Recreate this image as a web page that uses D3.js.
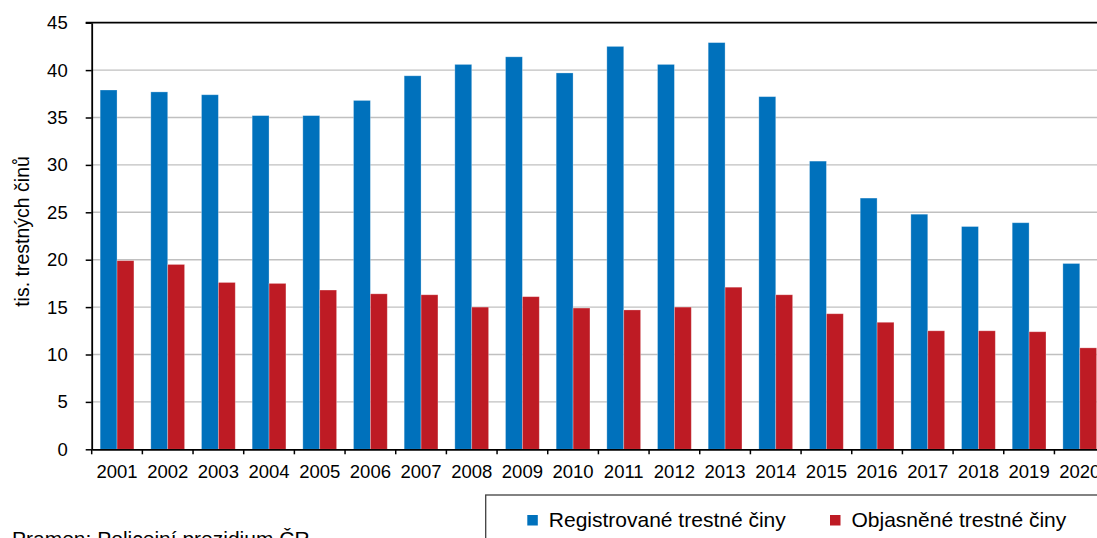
<!DOCTYPE html>
<html>
<head>
<meta charset="utf-8">
<script src="https://cdn.jsdelivr.net/npm/d3@7"></script>
<style>
  html, body { margin: 0; padding: 0; background: #fff; overflow: hidden; }
  text { font-family: "Liberation Sans", Arial, sans-serif; fill: #000; }
</style>
</head>
<body>
<svg id="chart" width="1097" height="538"></svg>
<script>
const years = ["2001","2002","2003","2004","2005","2006","2007","2008","2009","2010",
               "2011","2012","2013","2014","2015","2016","2017","2018","2019","2020"];
const registered = [37.9,37.7,37.4,35.2,35.2,36.8,39.4,40.6,41.4,39.7,
                    42.5,40.6,42.9,37.2,30.4,26.5,24.8,23.5,23.9,19.6];
const solved = [19.9,19.5,17.6,17.5,16.8,16.4,16.3,15.0,16.1,14.9,
                14.7,15.0,17.1,16.3,14.3,13.4,12.5,12.5,12.4,10.7];
const yTicks = [0,5,10,15,20,25,30,35,40,45];
const seriesNames = ["Registrované trestné činy", "Objasněné trestné činy"];
const seriesColors = ["#0071BC", "#BE1B24"];
const yTitle = "tis. trestných činů";
const sourceText = "Pramen: Policejní prezidium ČR";

(function () {
const svg = d3.select("#chart");
const mLeft = 91.7, mTop = 22.7, mBottom = 449.3;
const bandW = 50.67;
const mRight = mLeft + bandW * years.length;

const x = d3.scaleBand().domain(years).range([mLeft, mRight]).paddingInner(0).paddingOuter(0);
const x1 = d3.scaleBand().domain([0, 1]).range([x.bandwidth() / 6, x.bandwidth() * 5 / 6]).padding(0);
const y = d3.scaleLinear().domain([0, 45]).range([mBottom, mTop]);

// gridlines
svg.append("g").selectAll("line").data(yTicks.filter(d => d > 0 && d < 45)).join("line")
  .attr("x1", mLeft).attr("x2", 1097)
  .attr("y1", d => y(d)).attr("y2", d => y(d))
  .attr("stroke", "#c0c0c0").attr("stroke-width", 1.4);

// bars
const data = years.map((yr, i) => ({ yr, vals: [registered[i], solved[i]] }));
const groups = svg.append("g").selectAll("g").data(data).join("g")
  .attr("transform", d => `translate(${x(d.yr)},0)`);
groups.selectAll("rect").data(d => d.vals.map((v, k) => ({ v, k }))).join("rect")
  .attr("x", d => x1(d.k))
  .attr("width", x1.bandwidth())
  .attr("y", d => y(d.v))
  .attr("height", d => y(0) - y(d.v))
  .attr("fill", d => seriesColors[d.k])
  .attr("stroke", "rgba(255,255,255,0.35)")
  .attr("stroke-width", 0.8);

// top border line
svg.append("line").attr("x1", mLeft - 6).attr("x2", 1097)
  .attr("y1", mTop).attr("y2", mTop).attr("stroke", "#000").attr("stroke-width", 1.8);

// y axis
const yAxis = d3.axisLeft(y).tickValues(yTicks).tickSize(6).tickPadding(18).tickSizeOuter(0);
const gy = svg.append("g").attr("transform", `translate(${mLeft},0)`).call(yAxis);
gy.select(".domain").attr("stroke", "#000").attr("stroke-width", 1.8);
gy.selectAll(".tick line").attr("stroke", "#000").attr("stroke-width", 1.5);
gy.selectAll(".tick text").style("font-size", "18.5px").style("font-family", '"Liberation Sans", Arial, sans-serif').attr("fill", "#000");

// x axis
const xAxis = d3.axisBottom(x).tickSize(0).tickPadding(16).tickSizeOuter(0);
const gx = svg.append("g").attr("transform", `translate(0,${mBottom})`).call(xAxis);
gx.select(".domain").attr("stroke", "#000").attr("stroke-width", 1.8);
gx.selectAll(".tick text").style("font-size", "18.5px").style("font-family", '"Liberation Sans", Arial, sans-serif').attr("fill", "#000");
// boundary ticks
svg.append("g").selectAll("line").data(years).join("line")
  .attr("x1", d => x(d)).attr("x2", d => x(d))
  .attr("y1", mBottom).attr("y2", mBottom + 5)
  .attr("stroke", "#000").attr("stroke-width", 1.5);

// y title
svg.append("text")
  .attr("transform", "translate(29,231.5) rotate(-90)")
  .attr("text-anchor", "middle")
  .style("font-size", "19.5px")
  .text(yTitle);

// legend
svg.append("rect").attr("x", 485.7).attr("y", 495).attr("width", 700).attr("height", 100)
  .attr("fill", "none").attr("stroke", "#404040").attr("stroke-width", 1.3);
const legendX = [527.3, 830];
const leg = svg.append("g").selectAll("g").data(seriesNames).join("g")
  .attr("transform", (d, i) => `translate(${legendX[i]},515)`);
leg.append("rect").attr("width", 10.5).attr("height", 10.5).attr("fill", (d, i) => seriesColors[i]);
leg.append("text").attr("x", 21.5).attr("y", 11.5).style("font-size", "21px").text(d => d);

// source
svg.append("text").attr("x", 12).attr("y", 545.5).style("font-size", "21px").text(sourceText);
})();
</script>
</body>
</html>
